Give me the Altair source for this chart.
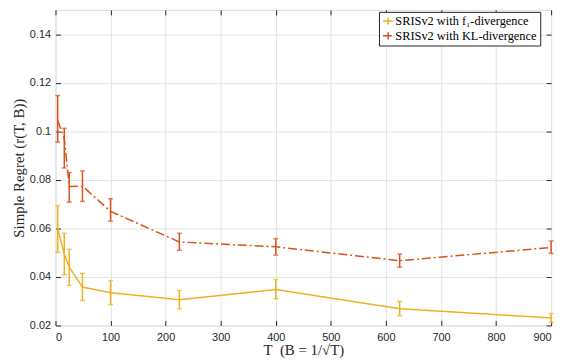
import altair as alt
import pandas as pd

T = [4, 16, 25, 49, 100, 225, 400, 625, 900]
series_names = ["SRISv2 with f\u2081-divergence", "SRISv2 with KL-divergence"]

f1_mean = [0.0600, 0.0494, 0.0440, 0.0358, 0.0335, 0.0306, 0.0348, 0.0269, 0.0231]
f1_lo = [0.0501, 0.0408, 0.0365, 0.0303, 0.0286, 0.0269, 0.0310, 0.0240, 0.0212]
f1_hi = [0.0694, 0.0580, 0.0514, 0.0415, 0.0385, 0.0344, 0.0389, 0.0299, 0.0249]

kl_mean = [0.1045, 0.0970, 0.0773, 0.0774, 0.0670, 0.0544, 0.0524, 0.0467, 0.0521]
kl_lo = [0.0955, 0.0849, 0.0708, 0.0711, 0.0630, 0.0510, 0.0490, 0.0440, 0.0497]
kl_hi = [0.1147, 0.1012, 0.0830, 0.0837, 0.0722, 0.0580, 0.0558, 0.0494, 0.0548]

x_ticks = [0, 100, 200, 300, 400, 500, 600, 700, 800, 900]
y_ticks = [0.02, 0.04, 0.06, 0.08, 0.10, 0.12, 0.14]

rows = []
for name, m, lo, hi in [(series_names[0], f1_mean, f1_lo, f1_hi),
                        (series_names[1], kl_mean, kl_lo, kl_hi)]:
    for t, a, b, c in zip(T, m, lo, hi):
        rows.append({"T": t, "mean": a, "lo": b, "hi": c, "series": name})
df = pd.DataFrame(rows)

colors = ["#EDB120", "#D95319"]
AX = "#262626"
SANS = "Liberation Sans"
SERIF = "Liberation Serif"

xscale = alt.Scale(domain=[0, 900], nice=False, zero=False)
yscale = alt.Scale(domain=[0.02, 0.15], nice=False, zero=False)

color_enc = alt.Color(
    "series:N",
    scale=alt.Scale(domain=series_names, range=colors),
    legend=alt.Legend(
        title=None, orient="none", legendX=327, legendY=2,
        labelFont=SERIF, labelFontSize=12.5, labelColor="#000000",
        strokeColor=AX, fillColor="white", padding=3, rowPadding=1,
        symbolType="M-1,0H1M0,-0.7V0.7", symbolSize=110, symbolStrokeWidth=1.5,
        labelOffset=1, cornerRadius=0,
    ),
)
dash_enc = alt.StrokeDash(
    "series:N",
    scale=alt.Scale(domain=series_names, range=[[1, 0], [9, 3, 2, 3]]),
    legend=None,
)

base = alt.Chart(df)

lines = base.mark_line(strokeWidth=1.5).encode(
    x=alt.X("T:Q", scale=xscale,
            axis=alt.Axis(orient="bottom", values=x_ticks,
                          title="T\u2002(B\u2005=\u20051/\u221aT)",
                          grid=True, gridColor="#e3e3e3", domain=False,
                          tickSize=5, offset=-5, tickColor=AX, labelPadding=6,
                          labelFont=SANS, labelFontSize=11, labelColor=AX,
                          titleFont=SERIF, titleFontSize=15, titleFontWeight="normal",
                          titleColor=AX, titlePadding=0)),
    y=alt.Y("mean:Q", scale=yscale,
            axis=alt.Axis(orient="left", values=y_ticks, title="Simple Regret (r(T, B))",
                          format=".2~f", grid=True, gridColor="#e3e3e3", domain=False,
                          tickSize=5, offset=-5, tickColor=AX, labelPadding=5,
                          labelFont=SANS, labelFontSize=11, labelColor=AX,
                          titleFont=SERIF, titleFontSize=15, titleFontWeight="normal",
                          titleColor=AX, titlePadding=3)),
    color=color_enc,
    strokeDash=dash_enc,
)

bars = base.mark_errorbar(ticks=alt.MarkConfig(size=5), thickness=1.5).encode(
    x=alt.X("T:Q", scale=xscale,
            axis=alt.Axis(orient="top", values=x_ticks, labels=False, title=None,
                          grid=False, domain=False, tickSize=5, offset=-5, tickColor=AX)),
    y=alt.Y("lo:Q", scale=yscale,
            axis=alt.Axis(orient="right", values=y_ticks, labels=False, title=None,
                          grid=False, domain=False, tickSize=5, offset=-5, tickColor=AX)),
    y2="hi:Q",
    color=alt.Color("series:N", scale=alt.Scale(domain=series_names, range=colors), legend=None),
)

chart = alt.layer(lines, bars).resolve_axis(x="independent", y="independent").properties(
    width=501, height=319,
    autosize=alt.AutoSizeParams(type="none"),
    padding={"left": 48, "top": 0, "right": 10, "bottom": 34},
).configure_view(stroke=AX, strokeWidth=1).configure(background="white")

chart.save("out.html", embed_options={"renderer": "svg", "actions": False})
